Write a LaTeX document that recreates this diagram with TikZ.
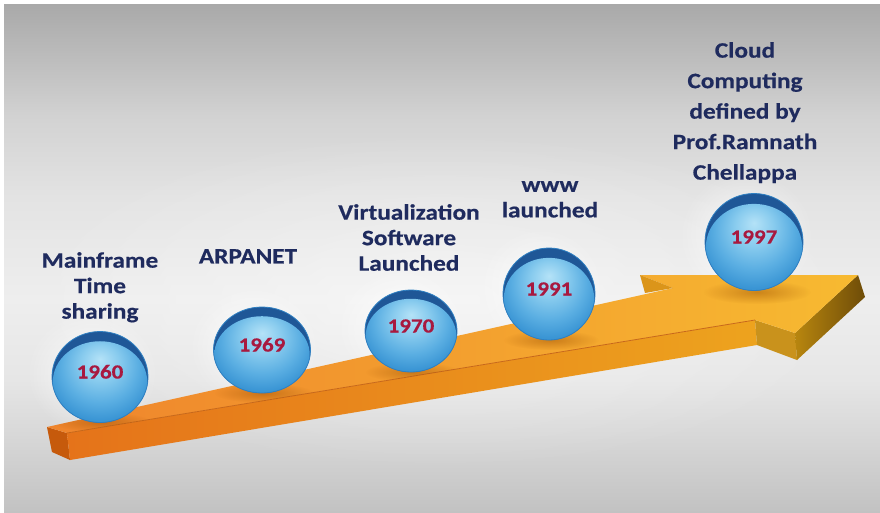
\documentclass[tikz,border=0pt]{standalone}
\usepackage{fontspec}
\newfontfamily\lblfont[FakeStretch=1.15, BoldFeatures={FakeBold=0.5}]{Carlito}
\usetikzlibrary{calc,fadings,shapes.geometric}

% text colours
\definecolor{navytext}{HTML}{1F2B5E}
\definecolor{yearred}{HTML}{A8193F}
% sphere colours
\definecolor{capblue}{HTML}{1F5797}
\definecolor{rimblue}{HTML}{2F80C2}
\definecolor{orbA}{HTML}{B4E2F7}
\definecolor{orbB}{HTML}{88CBEE}
\definecolor{orbC}{HTML}{5AAEE2}
\definecolor{orbD}{HTML}{3A95D4}
% backdrop greys, bottom to top
\definecolor{bgD}{HTML}{C2C2C2}
\definecolor{bgC}{HTML}{D6D6D6}
\definecolor{bgB}{HTML}{E6E6E6}
\definecolor{bgA}{HTML}{EEEEEE}
\definecolor{bgBB}{HTML}{E3E3E3}
\definecolor{bgCC}{HTML}{D2D2D2}
\definecolor{bgE}{HTML}{BDBDBD}
\definecolor{bgF}{HTML}{A9A9A9}
% timeline bar colours
\definecolor{topL}{HTML}{EF842C}
\definecolor{topM}{HTML}{F29C2A}
\definecolor{topR}{HTML}{F7BA31}
\definecolor{frontL}{HTML}{E5731A}
\definecolor{frontR}{HTML}{EDA31E}
\definecolor{endface}{HTML}{C65A0C}
\definecolor{barbface}{HTML}{C9921C}
\definecolor{tipL}{HTML}{B8860F}
\definecolor{tipR}{HTML}{6E4C08}
\definecolor{barbback}{HTML}{DB951A}
\definecolor{crease}{HTML}{C8681A}

\pgfdeclareverticalshading{backdrop}{100bp}{color(0bp)=(bgD); color(25bp)=(bgD);
  color(32bp)=(bgC); color(38bp)=(bgB); color(46bp)=(bgA); color(56bp)=(bgBB);
  color(64bp)=(bgCC); color(69.5bp)=(bgE); color(75bp)=(bgF); color(100bp)=(bgF)}

\pgfdeclareradialshading{orbglow}{\pgfpoint{0bp}{10bp}}{color(0bp)=(orbA);
  color(10bp)=(orbB); color(20bp)=(orbC); color(28bp)=(orbD); color(50bp)=(orbD)}

\tikzfading[name=softedge, inner color=transparent!0, outer color=transparent!100]

\tikzset{
  orb/.style 2 args={ellipse, minimum width=#1, minimum height=#2, inner sep=0pt,
    fill=capblue, draw=rimblue, line width=0.8pt,
    text=yearred, font=\lblfont\bfseries\fontsize{20}{22}\selectfont,
    text height=13pt, text depth=10pt,
    path picture={\shade[shading=orbglow]
      ($(path picture bounding box.center)+(0,#2*0.055)$)
      ellipse [x radius=#1*0.492, y radius=#2*0.448];}},
  caption/.style={align=center, anchor=north, inner sep=0pt, text=navytext,
    font=\lblfont\bfseries\fontsize{22}{25.5}\selectfont},
  halo/.style={white, opacity=0.75, path fading=softedge},
  orbshadow/.style={fill=black!40!orange, opacity=0.45, path fading=softedge},
}

\begin{document}
\begin{tikzpicture}[x=1pt, y=-1pt]
\useasboundingbox (0,0) rectangle (880,512);
\fill[white] (0,0) rectangle (880,512);
\shade[shading=backdrop] (4,4) rectangle (880,512);
\fill[white, opacity=0.45, path fading=softedge] (440,300) ellipse [x radius=430, y radius=170];

% glow behind the spheres
\fill[halo] (92,372) ellipse [x radius=66, y radius=62];
\fill[halo] (254,345) ellipse [x radius=66, y radius=60];
\fill[halo] (401,325) ellipse [x radius=66, y radius=58];
\fill[halo] (541,289) ellipse [x radius=64, y radius=62];
\fill[halo] (746,237) ellipse [x radius=68, y radius=66];

% corners of the 3D arrow
\coordinate (bL) at (47,427);
\coordinate (fL) at (67,433);
\coordinate (fLb) at (70,460);
\coordinate (bLb) at (52,452);
\coordinate (notch) at (673,288);
\coordinate (barbB) at (640,275);
\coordinate (barbBb) at (645,293);
\coordinate (tip) at (858,275);
\coordinate (tipb) at (865,297);
\coordinate (barbF) at (795,333);
\coordinate (barbFb) at (797,360);
\coordinate (join) at (755,320);
\coordinate (joinb) at (757,345);

% arrow faces
\fill[endface] (bL) -- (fL) -- (fLb) -- (bLb) -- cycle;
\shade[left color=frontL, right color=frontR] (fL) -- (join) -- (joinb) -- (fLb) -- cycle;
\fill[barbface] (join) -- (barbF) -- (barbFb) -- (joinb) -- cycle;
\shade[left color=tipL, right color=tipR] (barbF) -- (tip) -- (tipb) -- (barbFb) -- cycle;
\shade[left color=topL, middle color=topM, right color=topR]
  (bL) -- (notch) -- (barbB) -- (tip) -- (barbF) -- (join) -- (fL) -- cycle;
\fill[barbback] (barbB) -- (notch) -- (barbBb) -- cycle;
\draw[crease, line width=0.8pt] (fL) -- (join);

% soft shadows of the spheres on the arrow
\begin{scope}
\clip (bL) -- (notch) -- (barbB) -- (tip) -- (barbF) -- (join) -- (fL) -- cycle;
\fill[orbshadow] (102,422) ellipse [x radius=50, y radius=10];
\fill[orbshadow] (264,393) ellipse [x radius=50, y radius=10];
\fill[orbshadow] (413,372) ellipse [x radius=48, y radius=10];
\fill[orbshadow] (551,340) ellipse [x radius=48, y radius=10];
\fill[orbshadow] (757,292) ellipse [x radius=54, y radius=12];
\end{scope}

% year spheres
\node[orb={96}{91}] (y1960) at (100,377) {1960};
\node[orb={97}{86}] (y1969) at (262,350) {1969};
\node[orb={92}{82}] (y1970) at (411,331) {1970};
\node[orb={92}{92}] (y1991) at (549,294) {1991};
\node[orb={98}{97}] (y1997) at (754,242) {1997};

% milestone captions
\node[caption] (mainframe) at (100,252) {Mainframe\\Time\\sharing};
\node[caption] (arpanet) at (248,249) {ARPANET};
\node[caption] (virt) at (409,204) {Virtualization\\Software\\Launched};
\node[caption] (www) at (550,181) {www\\launched};
\node[caption, font=\lblfont\bfseries\fontsize{22}{30.5}\selectfont] (cloud) at (745,42)
  {Cloud\\Computing\\defined by\\Prof.Ramnath\\Chellappa};
\end{tikzpicture}
\end{document}
